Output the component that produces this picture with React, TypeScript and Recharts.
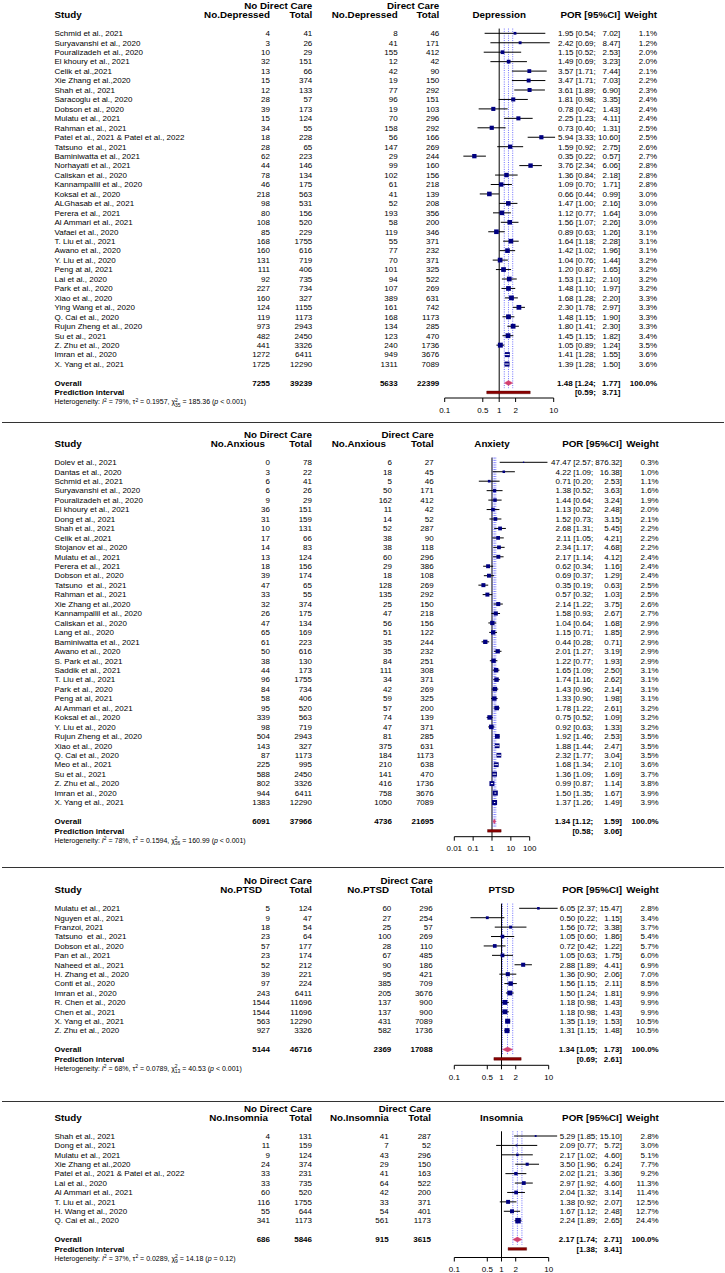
import React from 'react';
import { ComposedChart, XAxis, YAxis, Scatter, ReferenceLine, ReferenceArea, ReferenceDot } from 'recharts';

const FONT = "'Liberation Sans', Arial, Helvetica, sans-serif";
const BOX_COLOR = '#000080';
const DIAMOND_COLOR = '#d4406f';
const PRED_COLOR = '#8b0000';
const DOT_COLOR = '#4a4aff';
const STUDY_X = 54.5;

// ---------------- Depression ----------------
const depStudy = ['Schmid et al., 2021', 'Suryavanshi et al., 2020', 'Pouralizadeh et al., 2020', 'El khoury et al., 2021', 'Celik et al.,2021', 'Xie Zhang et al.,2020', 'Shah et al., 2021', 'Saracoglu et al., 2020', 'Dobson et al., 2020', 'Mulatu et al., 2021', 'Rahman et al., 2021', 'Patel et al., 2021 & Patel et al., 2022', 'Tatsuno  et al., 2021', 'Baminiwatta et al., 2021', 'Norhayati et al., 2021', 'Caliskan et al., 2020', 'Kannampallil et al., 2020', 'Koksal et al., 2020', 'ALGhasab et al., 2021', 'Perera et al., 2021', 'Al Ammari et al., 2021', 'Vafaei et al., 2020', 'T. Liu et al., 2021', 'Awano et al., 2020', 'Y. Liu et al., 2020', 'Peng at al, 2021', 'Lai et al., 2020', 'Park et al., 2020', 'Xiao et al., 2020', 'Ying Wang et al., 2020', 'Q. Cai et al., 2020', 'Rujun Zheng et al., 2020', 'Su et al., 2021', 'Z. Zhu et al., 2020', 'Imran et al., 2020', 'X. Yang et al., 2021'];
const depEventsNoDc = [4, 3, 10, 32, 13, 15, 12, 28, 39, 15, 34, 18, 28, 62, 44, 78, 46, 218, 98, 80, 108, 85, 168, 160, 131, 111, 92, 227, 160, 124, 119, 973, 482, 441, 1272, 1725];
const depTotalNoDc = [41, 26, 29, 151, 66, 374, 133, 57, 173, 124, 55, 228, 65, 223, 146, 134, 175, 563, 531, 156, 520, 229, 1755, 616, 719, 406, 735, 734, 327, 1155, 1173, 2943, 2450, 3326, 6411, 12290];
const depEventsDc = [8, 41, 155, 12, 42, 19, 77, 96, 19, 70, 158, 56, 147, 29, 99, 102, 61, 41, 52, 193, 58, 119, 55, 77, 70, 101, 94, 107, 389, 161, 168, 134, 123, 240, 949, 1311];
const depTotalDc = [46, 171, 412, 42, 90, 150, 292, 151, 103, 296, 292, 166, 269, 244, 160, 156, 218, 139, 208, 356, 200, 346, 371, 232, 371, 325, 522, 269, 631, 742, 1173, 285, 470, 1736, 3676, 7089];
const depPor = [1.95, 2.42, 1.15, 1.49, 3.57, 3.47, 3.61, 1.81, 0.78, 2.25, 0.73, 5.94, 1.59, 0.35, 3.76, 1.36, 1.09, 0.66, 1.47, 1.12, 1.56, 0.89, 1.64, 1.42, 1.04, 1.20, 1.53, 1.48, 1.68, 2.30, 1.48, 1.80, 1.45, 1.05, 1.41, 1.39];
const depLow = [0.54, 0.69, 0.52, 0.69, 1.71, 1.71, 1.89, 0.98, 0.42, 1.23, 0.40, 3.33, 0.92, 0.22, 2.34, 0.84, 0.70, 0.44, 1.00, 0.77, 1.07, 0.63, 1.18, 1.02, 0.76, 0.87, 1.12, 1.10, 1.28, 1.78, 1.15, 1.41, 1.15, 0.89, 1.28, 1.28];
const depHigh = [7.02, 8.47, 2.53, 3.23, 7.44, 7.03, 6.90, 3.35, 1.43, 4.11, 1.31, 10.60, 2.75, 0.57, 6.06, 2.18, 1.71, 0.99, 2.16, 1.64, 2.26, 1.26, 2.28, 1.96, 1.44, 1.65, 2.10, 1.97, 2.20, 2.97, 1.90, 2.30, 1.82, 1.24, 1.55, 1.50];
const depWeight = [1.1, 1.2, 2.0, 2.0, 2.1, 2.2, 2.3, 2.4, 2.4, 2.4, 2.5, 2.5, 2.6, 2.7, 2.8, 2.8, 2.8, 3.0, 3.0, 3.0, 3.0, 3.1, 3.1, 3.1, 3.2, 3.2, 3.2, 3.2, 3.3, 3.3, 3.3, 3.3, 3.4, 3.5, 3.6, 3.6];
const depOverallCounts = [7255, 39239, 5633, 22399];
const depOverallPor = [1.48, 1.24, 1.77];
const depPrediction = [0.59, 3.71];
const depHet = ['79%', '0.1957', '35', '185.36', '< 0.001'];
const depTicks = [0.1, 0.5, 1, 2, 10];

// ---------------- Anxiety ----------------
const anxStudy = ['Dolev et al., 2021', 'Dantas et al., 2020', 'Schmid et al., 2021', 'Suryavanshi et al., 2020', 'Pouralizadeh et al., 2020', 'El khoury et al., 2021', 'Dong et al., 2021', 'Shah et al., 2021', 'Celik et al.,2021', 'Stojanov et al., 2020', 'Mulatu et al., 2021', 'Perera et al., 2021', 'Dobson et al., 2020', 'Tatsuno  et al., 2021', 'Rahman et al., 2021', 'Xie Zhang et al.,2020', 'Kannampallil et al., 2020', 'Caliskan et al., 2020', 'Lang et al., 2020', 'Baminiwatta et al., 2021', 'Awano et al., 2020', 'S. Park et al., 2021', 'Saddik et al., 2021', 'T. Liu et al., 2021', 'Park et al., 2020', 'Peng at al, 2021', 'Al Ammari et al., 2021', 'Koksal et al., 2020', 'Y. Liu et al., 2020', 'Rujun Zheng et al., 2020', 'Xiao et al., 2020', 'Q. Cai et al., 2020', 'Meo et al., 2021', 'Su et al., 2021', 'Z. Zhu et al., 2020', 'Imran et al., 2020', 'X. Yang et al., 2021'];
const anxEventsNoDc = [0, 3, 6, 6, 9, 36, 31, 10, 17, 14, 13, 18, 39, 47, 33, 32, 26, 47, 65, 61, 50, 38, 44, 96, 84, 58, 95, 339, 98, 504, 143, 87, 225, 588, 802, 944, 1383];
const anxTotalNoDc = [78, 22, 41, 26, 29, 151, 159, 131, 66, 83, 124, 156, 174, 65, 55, 374, 175, 134, 169, 223, 616, 130, 173, 1755, 734, 406, 520, 563, 719, 2943, 327, 1173, 995, 2450, 3326, 6411, 12290];
const anxEventsDc = [6, 18, 5, 50, 162, 11, 14, 52, 38, 38, 60, 29, 18, 128, 135, 25, 47, 56, 51, 35, 35, 84, 111, 34, 42, 59, 57, 74, 47, 81, 375, 184, 210, 141, 416, 758, 1050];
const anxTotalDc = [27, 45, 46, 171, 412, 42, 52, 287, 90, 118, 296, 386, 108, 269, 292, 150, 218, 156, 122, 244, 232, 251, 308, 371, 269, 325, 200, 139, 371, 285, 631, 1173, 638, 470, 1736, 3676, 7089];
const anxPor = [47.47, 4.22, 0.71, 1.38, 1.44, 1.13, 1.52, 2.68, 2.11, 2.34, 2.17, 0.62, 0.69, 0.35, 0.57, 2.14, 1.58, 1.04, 1.15, 0.44, 2.01, 1.22, 1.65, 1.74, 1.43, 1.33, 1.78, 0.75, 0.92, 1.92, 1.88, 2.32, 1.68, 1.36, 0.99, 1.50, 1.37];
const anxLow = [2.57, 1.09, 0.20, 0.52, 0.64, 0.52, 0.73, 1.31, 1.05, 1.17, 1.14, 0.34, 0.37, 0.19, 0.32, 1.22, 0.93, 0.64, 0.71, 0.28, 1.27, 0.77, 1.09, 1.16, 0.96, 0.90, 1.22, 0.52, 0.63, 1.46, 1.44, 1.77, 1.34, 1.09, 0.87, 1.35, 1.26];
const anxHigh = [876.32, 16.38, 2.53, 3.63, 3.24, 2.48, 3.15, 5.45, 4.21, 4.68, 4.12, 1.16, 1.29, 0.63, 1.03, 3.75, 2.67, 1.68, 1.85, 0.71, 3.19, 1.93, 2.50, 2.62, 2.14, 1.98, 2.61, 1.09, 1.33, 2.53, 2.47, 3.04, 2.10, 1.69, 1.14, 1.67, 1.49];
const anxWeight = [0.3, 1.0, 1.1, 1.6, 1.9, 2.0, 2.1, 2.2, 2.2, 2.2, 2.4, 2.4, 2.4, 2.5, 2.5, 2.6, 2.7, 2.9, 2.9, 2.9, 2.9, 2.9, 3.1, 3.1, 3.1, 3.1, 3.2, 3.2, 3.2, 3.5, 3.5, 3.5, 3.6, 3.7, 3.8, 3.9, 3.9];
const anxOverallCounts = [6091, 37966, 4736, 21695];
const anxOverallPor = [1.34, 1.12, 1.59];
const anxPrediction = [0.58, 3.06];
const anxHet = ['78%', '0.1594', '36', '160.99', '< 0.001'];
const anxTicks = [0.01, 0.1, 1, 10, 100];

// ---------------- PTSD ----------------
const ptsdStudy = ['Mulatu et al., 2021', 'Nguyen et al., 2021', 'Franzoi, 2021', 'Tatsuno  et al., 2021', 'Dobson et al., 2020', 'Pan et al., 2021', 'Naheed et al., 2021', 'H. Zhang et al., 2020', 'Conti et al., 2020', 'Imran et al., 2020', 'R. Chen et al., 2020', 'Chen et al., 2021', 'X. Yang et al., 2021', 'Z. Zhu et al., 2020'];
const ptsdEventsNoDc = [5, 9, 18, 23, 57, 23, 52, 39, 97, 243, 1544, 1544, 563, 927];
const ptsdTotalNoDc = [124, 47, 54, 64, 177, 174, 212, 221, 224, 6411, 11696, 11696, 12290, 3326];
const ptsdEventsDc = [60, 27, 25, 100, 28, 67, 90, 95, 385, 205, 137, 137, 431, 582];
const ptsdTotalDc = [296, 254, 57, 269, 110, 485, 186, 421, 709, 3676, 900, 900, 7089, 1736];
const ptsdPor = [6.05, 0.50, 1.56, 1.05, 0.72, 1.05, 2.88, 1.36, 1.56, 1.50, 1.18, 1.18, 1.35, 1.31];
const ptsdLow = [2.37, 0.22, 0.72, 0.60, 0.42, 0.63, 1.89, 0.90, 1.15, 1.24, 0.98, 0.98, 1.19, 1.15];
const ptsdHigh = [15.47, 1.15, 3.38, 1.86, 1.22, 1.75, 4.41, 2.06, 2.11, 1.81, 1.43, 1.43, 1.53, 1.48];
const ptsdWeight = [2.8, 3.4, 3.7, 5.4, 5.7, 6.0, 6.9, 7.0, 8.5, 9.9, 9.9, 9.9, 10.5, 10.5];
const ptsdOverallCounts = [5144, 46716, 2369, 17088];
const ptsdOverallPor = [1.34, 1.05, 1.73];
const ptsdPrediction = [0.69, 2.61];
const ptsdHet = ['68%', '0.0789', '13', '40.53', '< 0.001'];
const ptsdTicks = [0.1, 0.5, 1, 2, 10];

// ---------------- Insomnia ----------------
const insStudy = ['Shah et al., 2021', 'Dong et al., 2021', 'Mulatu et al., 2021', 'Xie Zhang et al.,2020', 'Patel et al., 2021 & Patel et al., 2022', 'Lai et al., 2020', 'Al Ammari et al., 2021', 'T. Liu et al., 2021', 'H. Wang et al., 2020', 'Q. Cai et al., 2020'];
const insEventsNoDc = [4, 11, 9, 24, 33, 33, 60, 116, 55, 341];
const insTotalNoDc = [131, 159, 124, 374, 231, 735, 520, 1755, 644, 1173];
const insEventsDc = [41, 7, 43, 29, 41, 64, 42, 33, 54, 561];
const insTotalDc = [287, 52, 296, 150, 163, 522, 200, 371, 401, 1173];
const insPor = [5.29, 2.09, 2.17, 3.50, 2.02, 2.97, 2.04, 1.38, 1.67, 2.24];
const insLow = [1.85, 0.77, 1.02, 1.96, 1.21, 1.92, 1.32, 0.92, 1.12, 1.89];
const insHigh = [15.10, 5.72, 4.60, 6.24, 3.36, 4.60, 3.14, 2.07, 2.48, 2.65];
const insWeight = [2.8, 3.0, 5.1, 7.7, 9.2, 11.3, 11.4, 12.5, 12.7, 24.4];
const insOverallCounts = [686, 5846, 915, 3615];
const insOverallPor = [2.17, 1.74, 2.71];
const insPrediction = [1.38, 3.41];
const insHet = ['37%', '0.0289', '9', '14.18', '= 0.12'];
const insTicks = [0.1, 0.5, 1, 2, 10];

type PanelData = {
  outcome: string; eventLabel: string; study: string[];
  eventsNoDc: number[]; totalNoDc: number[]; eventsDc: number[]; totalDc: number[];
  por: number[]; low: number[]; high: number[]; weight: number[];
  overallCounts: number[]; overallPor: number[]; prediction: number[]; het: string[]; ticks: number[];
};
type PanelLayout = {
  top: number; row0: number; rowH: number; axisY: number; plotL: number; plotR: number;
  c1: number; c2: number; c3: number; c4: number; h1: number; h3: number;
  porA: number; porB: number; wt: number; boxMax: number;
};

const depData: PanelData = { outcome: 'Depression', eventLabel: 'No.Depressed', study: depStudy, eventsNoDc: depEventsNoDc, totalNoDc: depTotalNoDc, eventsDc: depEventsDc, totalDc: depTotalDc, por: depPor, low: depLow, high: depHigh, weight: depWeight, overallCounts: depOverallCounts, overallPor: depOverallPor, prediction: depPrediction, het: depHet, ticks: depTicks };
const anxData: PanelData = { outcome: 'Anxiety', eventLabel: 'No.Anxious', study: anxStudy, eventsNoDc: anxEventsNoDc, totalNoDc: anxTotalNoDc, eventsDc: anxEventsDc, totalDc: anxTotalDc, por: anxPor, low: anxLow, high: anxHigh, weight: anxWeight, overallCounts: anxOverallCounts, overallPor: anxOverallPor, prediction: anxPrediction, het: anxHet, ticks: anxTicks };
const ptsdData: PanelData = { outcome: 'PTSD', eventLabel: 'No.PTSD', study: ptsdStudy, eventsNoDc: ptsdEventsNoDc, totalNoDc: ptsdTotalNoDc, eventsDc: ptsdEventsDc, totalDc: ptsdTotalDc, por: ptsdPor, low: ptsdLow, high: ptsdHigh, weight: ptsdWeight, overallCounts: ptsdOverallCounts, overallPor: ptsdOverallPor, prediction: ptsdPrediction, het: ptsdHet, ticks: ptsdTicks };
const insData: PanelData = { outcome: 'Insomnia', eventLabel: 'No.Insomnia', study: insStudy, eventsNoDc: insEventsNoDc, totalNoDc: insTotalNoDc, eventsDc: insEventsDc, totalDc: insTotalDc, por: insPor, low: insLow, high: insHigh, weight: insWeight, overallCounts: insOverallCounts, overallPor: insOverallPor, prediction: insPrediction, het: insHet, ticks: insTicks };

const depLayout: PanelLayout = { top: 0, row0: 33.3, rowH: 9.45, axisY: 398, plotL: 444.7, plotR: 553.7, c1: 270, c2: 312.3, c3: 397.7, c4: 439.3, h1: 270, h3: 397.7, porA: 595.8, porB: 620.3, wt: 657, boxMax: 5 };
const anxLayout: PanelLayout = { top: 422, row0: 462.3, rowH: 9.45, axisY: 836.7, plotL: 454.3, plotR: 529.7, c1: 270, c2: 312, c3: 392, c4: 433.7, h1: 265, h3: 386, porA: 593.3, porB: 622, wt: 658.7, boxMax: 5 };
const ptsdLayout: PanelLayout = { top: 866.7, row0: 908, rowH: 9.41, axisY: 1065, plotL: 454.3, plotR: 548.7, c1: 270, c2: 312, c3: 391.3, c4: 432.7, h1: 262, h3: 389, porA: 597.5, porB: 622, wt: 658.7, boxMax: 5 };
const insLayout: PanelLayout = { top: 1101, row0: 1136, rowH: 9.41, axisY: 1257.5, plotL: 454.3, plotR: 548.7, c1: 270, c2: 312, c3: 388.7, c4: 431, h1: 268, h3: 388.7, porA: 597.5, porB: 622, wt: 658.7, boxMax: 5.5 };

const SEPARATORS = [422, 866.5, 1100.5];

const f2 = (v: number) => v.toFixed(2);

const T = (key: string, x: number, y: number, s: string | number, anchor: 'start' | 'middle' | 'end' = 'end', bold = false, size = 8) => (
  <text key={key} x={x} y={y} dy="0.35em" textAnchor={anchor} fontSize={size} fontWeight={bold ? 'bold' : 'normal'} fontFamily={FONT} fill="#000" style={{ whiteSpace: 'pre' }}>{s}</text>
);

function ForestPanel({ d, L }: { d: PanelData; L: PanelLayout }) {
  const n = d.study.length;
  const overallIdx = n + 1;
  const predIdx = n + 2;
  const hetIdx = n + 3;
  const plotH = L.axisY - L.top;
  const chartH = plotH + 20;
  const yMin = -(L.row0 - L.top) / L.rowH;
  const yMax = yMin + plotH / L.rowH;
  const xDomain = [d.ticks[0], d.ticks[d.ticks.length - 1]];
  const pxPerDecade = (L.plotR - L.plotL) / Math.log10(xDomain[1] / xDomain[0]);
  const wMax = Math.max(...d.weight);
  const boxSide = (w: number) => L.boxMax * Math.sqrt(w / wMax);
  const HEAD = 9.8;

  const textRows: any[] = [
    { x: 1, y: -2.95, kind: 'group' },
    { x: 1, y: -1.95, kind: 'head' },
    ...d.study.map((_, i) => ({ x: 1, y: i, kind: 'study', i })),
    { x: 1, y: overallIdx, kind: 'overall' },
    { x: 1, y: predIdx, kind: 'pred' },
  ];
  const boxes = d.study.map((_, i) => ({ x: d.por[i], y: i, w: d.weight[i] }));
  const inside = d.study.map((_, i) => Math.log10(d.high[i] / d.low[i]) * pxPerDecade < boxSide(d.weight[i]) - 0.3);

  const renderRow = (p: any) => {
    const cy = p.cy;
    const r = p.payload;
    if (r.kind === 'group') {
      return <g>{T('a', L.c2, cy, 'No Direct Care', 'end', true, HEAD)}{T('b', L.c4, cy, 'Direct Care', 'end', true, HEAD)}</g>;
    }
    if (r.kind === 'head') {
      return (
        <g>
          {T('s', STUDY_X, cy, 'Study', 'start', true, HEAD)}
          {T('e1', L.h1, cy, d.eventLabel, 'end', true, HEAD)}
          {T('n1', L.c2, cy, 'Total', 'end', true, HEAD)}
          {T('e2', L.h3, cy, d.eventLabel, 'end', true, HEAD)}
          {T('n2', L.c4, cy, 'Total', 'end', true, HEAD)}
          {T('o', (L.plotL + L.plotR) / 2, cy, d.outcome, 'middle', true, HEAD)}
          {T('p', L.porB, cy, 'POR [95%CI]', 'end', true, HEAD)}
          {T('w', L.wt, cy, 'Weight', 'end', true, HEAD)}
        </g>
      );
    }
    if (r.kind === 'study') {
      const i = r.i;
      return (
        <g>
          {T('s', STUDY_X, cy, d.study[i], 'start')}
          {T('e1', L.c1, cy, d.eventsNoDc[i])}
          {T('n1', L.c2, cy, d.totalNoDc[i])}
          {T('e2', L.c3, cy, d.eventsDc[i])}
          {T('n2', L.c4, cy, d.totalDc[i])}
          {T('pa', L.porA, cy, `${f2(d.por[i])} [${f2(d.low[i])};`)}
          {T('pb', L.porB, cy, `${f2(d.high[i])}]`)}
          {T('w', L.wt, cy, `${d.weight[i].toFixed(1)}%`)}
        </g>
      );
    }
    if (r.kind === 'overall') {
      const [a, b, c, e] = d.overallCounts;
      const [est, lo, hi] = d.overallPor;
      return (
        <g>
          {T('s', STUDY_X, cy, 'Overall', 'start', true)}
          {T('e1', L.c1, cy, a, 'end', true)}
          {T('n1', L.c2, cy, b, 'end', true)}
          {T('e2', L.c3, cy, c, 'end', true)}
          {T('n2', L.c4, cy, e, 'end', true)}
          {T('pa', L.porA, cy, `${f2(est)} [${f2(lo)};`, 'end', true)}
          {T('pb', L.porB, cy, `${f2(hi)}]`, 'end', true)}
          {T('w', L.wt, cy, '100.0%', 'end', true)}
        </g>
      );
    }
    if (r.kind === 'pred') {
      return (
        <g>
          {T('s', STUDY_X, cy, 'Prediction interval', 'start', true)}
          {T('pa', L.porA, cy, `[${f2(d.prediction[0])};`, 'end', true)}
          {T('pb', L.porB, cy, `${f2(d.prediction[1])}]`, 'end', true)}
        </g>
      );
    }
    return <g />;
  };

  const het = d.het;
  const hetShape = (p: any) => (
    <text x={STUDY_X} y={p.cy} dy="0.35em" fontSize={7} fontFamily={FONT} fill="#000" style={{ whiteSpace: 'pre' }}>
      <tspan>Heterogeneity: </tspan>
      <tspan fontStyle="italic">I</tspan>
      <tspan fontSize={5} dy={-2.6}>2</tspan>
      <tspan dy={2.6}>{` = ${het[0]}, \u03C4`}</tspan>
      <tspan fontSize={5} dy={-2.6}>2</tspan>
      <tspan dy={2.6}>{` = ${het[1]}, \u03C7`}</tspan>
      <tspan fontSize={5} dy={-2.6}>2</tspan>
      <tspan fontSize={5} dx={-2.8} dy={4.8}>{het[2]}</tspan>
      <tspan dy={-2.2}>{` = ${het[3]} (`}</tspan>
      <tspan fontStyle="italic">p</tspan>
      <tspan>{` ${het[4]})`}</tspan>
    </text>
  );

  const boxShape = (p: any) => {
    const s = boxSide(p.payload.w);
    return <rect x={p.cx - s / 2} y={p.cy - s / 2} width={s} height={s} fill={BOX_COLOR} />;
  };

  const diamondShape = (p: any) => {
    const { x, y, width, height } = p;
    return <path d={`M${x},${y + height / 2} L${x + width / 2},${y} L${x + width},${y + height / 2} L${x + width / 2},${y + height} Z`} fill={DIAMOND_COLOR} stroke={DIAMOND_COLOR} strokeWidth={0.4} />;
  };

  return (
    <div style={{ position: 'absolute', left: 0, top: L.top }}>
      <ComposedChart width={725} height={chartH} margin={{ top: 0, right: 725 - L.plotR, bottom: 0, left: L.plotL }}>
        <XAxis
          type="number"
          dataKey="x"
          scale="log"
          domain={xDomain}
          ticks={d.ticks}
          interval={0}
          height={20}
          tickSize={4}
          tickMargin={5}
          tickFormatter={(v: number) => String(v)}
          tick={{ fontSize: 8, fill: '#000', fontFamily: FONT }}
          axisLine={{ stroke: '#000', strokeWidth: 1 }}
          tickLine={{ stroke: '#000', strokeWidth: 1 }}
        />
        <YAxis type="number" dataKey="y" domain={[yMin, yMax]} reversed hide />
        <ReferenceLine segment={[{ x: 1, y: -0.5 }, { x: 1, y: yMax }]} stroke="#000" strokeWidth={1} ifOverflow="visible" zIndex={30} />
        {d.overallPor.map((v, k) => (
          <ReferenceLine key={`dot${k}`} segment={[{ x: v, y: -0.5 }, { x: v, y: overallIdx + 0.55 }]} stroke={DOT_COLOR} strokeWidth={0.8} strokeDasharray="1 1.3" ifOverflow="visible" zIndex={35} />
        ))}
        {d.study.map((_, i) => (
          <ReferenceLine key={`ci${i}`} segment={[{ x: d.low[i], y: i }, { x: d.high[i], y: i }]} stroke="#000" strokeWidth={1} ifOverflow="visible" zIndex={50} />
        ))}
        <ReferenceArea x1={d.overallPor[1]} x2={d.overallPor[2]} y1={overallIdx - 0.26} y2={overallIdx + 0.26} shape={diamondShape} ifOverflow="visible" zIndex={60} />
        <ReferenceArea x1={d.prediction[0]} x2={d.prediction[1]} y1={predIdx - 0.14} y2={predIdx + 0.14} fill={PRED_COLOR} fillOpacity={1} stroke="#4a0000" strokeWidth={0.4} ifOverflow="visible" zIndex={60} />
        <Scatter data={boxes} shape={boxShape} isAnimationActive={false} />
        {d.study.map((_, i) => (inside[i] ? (
          <ReferenceLine key={`in${i}`} segment={[{ x: d.low[i], y: i }, { x: d.high[i], y: i }]} stroke="#fff" strokeWidth={1} ifOverflow="visible" zIndex={700} />
        ) : null))}
        <Scatter data={textRows} shape={renderRow} isAnimationActive={false} />
        <ReferenceDot x={1} y={hetIdx} ifOverflow="visible" shape={hetShape} />
      </ComposedChart>
    </div>
  );
}

export default function App() {
  return (
    <div style={{ position: 'absolute', left: 0, top: 0, width: 725, height: 1273, background: '#fff', overflow: 'hidden' }}>
      {SEPARATORS.map((y) => (
        <div key={y} style={{ position: 'absolute', left: 2, top: y, width: 722, height: 1, background: '#333' }} />
      ))}
      <ForestPanel d={depData} L={depLayout} />
      <ForestPanel d={anxData} L={anxLayout} />
      <ForestPanel d={ptsdData} L={ptsdLayout} />
      <ForestPanel d={insData} L={insLayout} />
    </div>
  );
}
